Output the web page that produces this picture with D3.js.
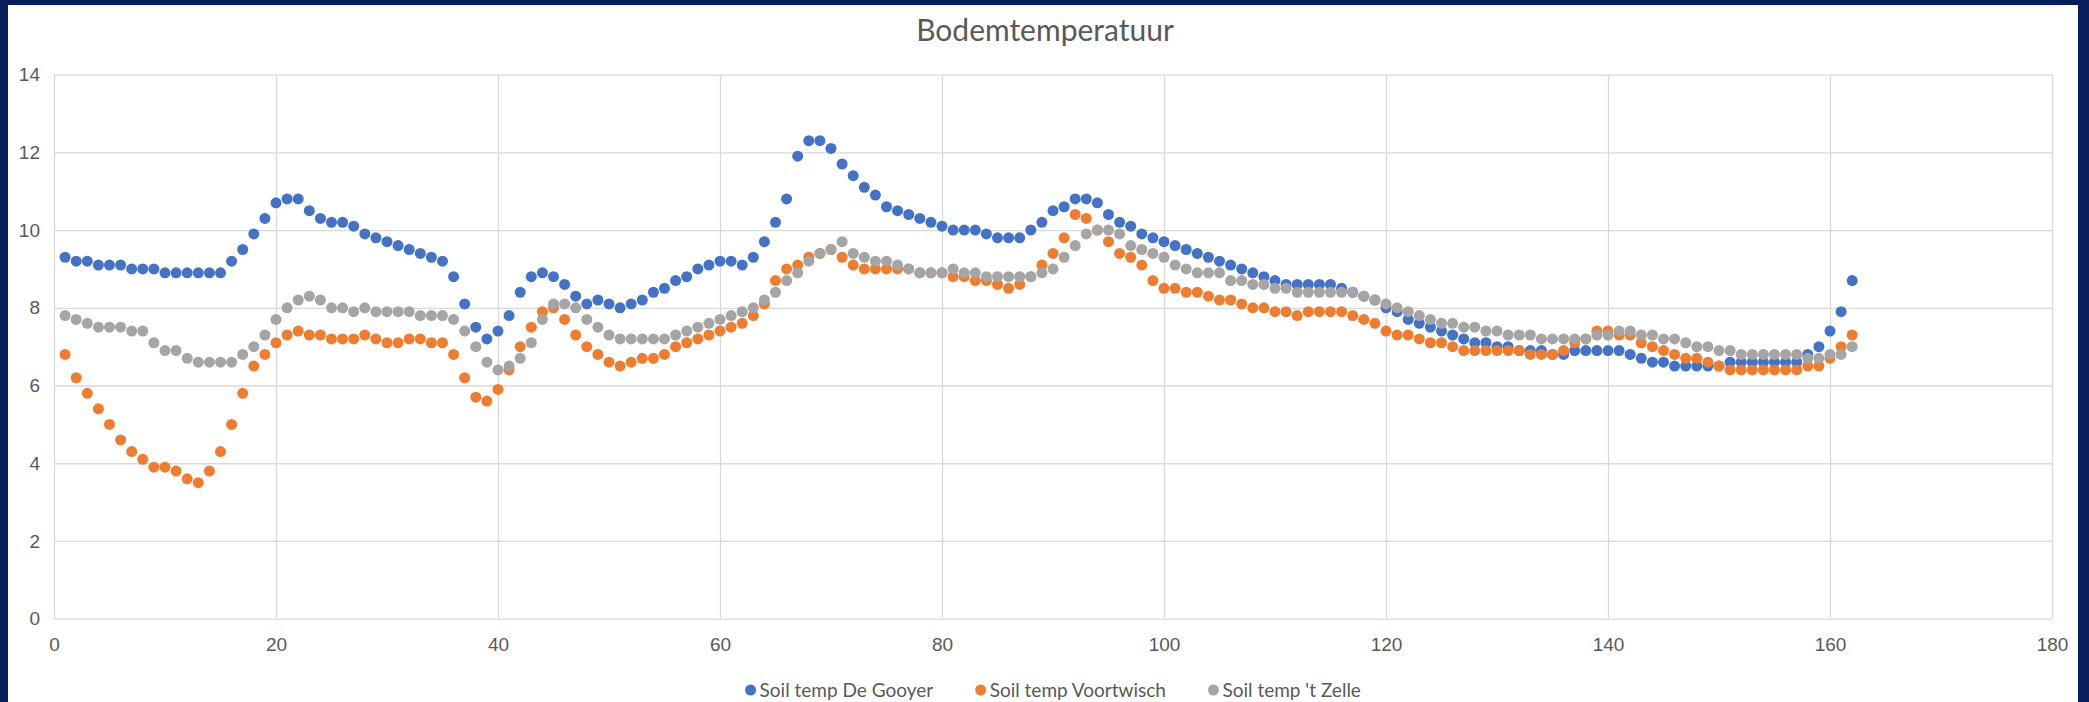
<!DOCTYPE html>
<html lang="nl">
<head>
    <meta charset="UTF-8">
    <title>Bodemtemperatuur</title>
    <script src="https://d3js.org/d3.v7.min.js"></script>
    <style>
        body {
            margin: 0;
            background-color: #081e5b;
            font-family: Lato, "Open Sans", Arial, sans-serif;
        }
        .grid line {
            stroke: #d9d9d9;
            stroke-width: 1.3;
        }
        .grid text {
            fill: #595959;
            font-size: 19px;
        }
        .title {
            fill: #595959;
            font-size: 30px;
        }
        .legend text {
            fill: #595959;
            font-size: 19px;
        }
    </style>
</head>
<body>
    <svg id="chart" width="2089" height="702"></svg>

    <script>
        // dagnummers op de x-as
        const days = d3.range(1, 163);

        const deGooyer = [
            9.3, 9.2, 9.2, 9.1, 9.1, 9.1, 9.0, 9.0, 9.0, 8.9,
            8.9, 8.9, 8.9, 8.9, 8.9, 9.2, 9.5, 9.9, 10.3, 10.7,
            10.8, 10.8, 10.5, 10.3, 10.2, 10.2, 10.1, 9.9, 9.8, 9.7,
            9.6, 9.5, 9.4, 9.3, 9.2, 8.8, 8.1, 7.5, 7.2, 7.4,
            7.8, 8.4, 8.8, 8.9, 8.8, 8.6, 8.3, 8.1, 8.2, 8.1,
            8.0, 8.1, 8.2, 8.4, 8.5, 8.7, 8.8, 9.0, 9.1, 9.2,
            9.2, 9.1, 9.3, 9.7, 10.2, 10.8, 11.9, 12.3, 12.3, 12.1,
            11.7, 11.4, 11.1, 10.9, 10.6, 10.5, 10.4, 10.3, 10.2, 10.1,
            10.0, 10.0, 10.0, 9.9, 9.8, 9.8, 9.8, 10.0, 10.2, 10.5,
            10.6, 10.8, 10.8, 10.7, 10.4, 10.2, 10.1, 9.9, 9.8, 9.7,
            9.6, 9.5, 9.4, 9.3, 9.2, 9.1, 9.0, 8.9, 8.8, 8.7,
            8.6, 8.6, 8.6, 8.6, 8.6, 8.5, 8.4, 8.3, 8.2, 8.0,
            7.9, 7.7, 7.6, 7.5, 7.4, 7.3, 7.2, 7.1, 7.1, 7.0,
            7.0, 6.9, 6.9, 6.9, 6.8, 6.8, 6.9, 6.9, 6.9, 6.9,
            6.9, 6.8, 6.7, 6.6, 6.6, 6.5, 6.5, 6.5, 6.5, 6.5,
            6.6, 6.6, 6.6, 6.6, 6.6, 6.6, 6.6, 6.8, 7.0, 7.4,
            7.9, 8.7
        ];

        const voortwisch = [
            6.8, 6.2, 5.8, 5.4, 5.0, 4.6, 4.3, 4.1, 3.9, 3.9,
            3.8, 3.6, 3.5, 3.8, 4.3, 5.0, 5.8, 6.5, 6.8, 7.1,
            7.3, 7.4, 7.3, 7.3, 7.2, 7.2, 7.2, 7.3, 7.2, 7.1,
            7.1, 7.2, 7.2, 7.1, 7.1, 6.8, 6.2, 5.7, 5.6, 5.9,
            6.4, 7.0, 7.5, 7.9, 8.0, 7.7, 7.3, 7.0, 6.8, 6.6,
            6.5, 6.6, 6.7, 6.7, 6.8, 7.0, 7.1, 7.2, 7.3, 7.4,
            7.5, 7.6, 7.8, 8.1, 8.7, 9.0, 9.1, 9.3, 9.4, 9.5,
            9.3, 9.1, 9.0, 9.0, 9.0, 9.0, 9.0, 8.9, 8.9, 8.9,
            8.8, 8.8, 8.7, 8.7, 8.6, 8.5, 8.6, 8.8, 9.1, 9.4,
            9.8, 10.4, 10.3, 10.0, 9.7, 9.4, 9.3, 9.1, 8.7, 8.5,
            8.5, 8.4, 8.4, 8.3, 8.2, 8.2, 8.1, 8.0, 8.0, 7.9,
            7.9, 7.8, 7.9, 7.9, 7.9, 7.9, 7.8, 7.7, 7.6, 7.4,
            7.3, 7.3, 7.2, 7.1, 7.1, 7.0, 6.9, 6.9, 6.9, 6.9,
            6.9, 6.9, 6.8, 6.8, 6.8, 6.9, 7.1, 7.2, 7.4, 7.4,
            7.3, 7.3, 7.1, 7.0, 6.9, 6.8, 6.7, 6.7, 6.6, 6.5,
            6.4, 6.4, 6.4, 6.4, 6.4, 6.4, 6.4, 6.5, 6.5, 6.7,
            7.0, 7.3
        ];

        const tZelle = [
            7.8, 7.7, 7.6, 7.5, 7.5, 7.5, 7.4, 7.4, 7.1, 6.9,
            6.9, 6.7, 6.6, 6.6, 6.6, 6.6, 6.8, 7.0, 7.3, 7.7,
            8.0, 8.2, 8.3, 8.2, 8.0, 8.0, 7.9, 8.0, 7.9, 7.9,
            7.9, 7.9, 7.8, 7.8, 7.8, 7.7, 7.4, 7.0, 6.6, 6.4,
            6.5, 6.7, 7.1, 7.7, 8.1, 8.1, 8.0, 7.7, 7.5, 7.3,
            7.2, 7.2, 7.2, 7.2, 7.2, 7.3, 7.4, 7.5, 7.6, 7.7,
            7.8, 7.9, 8.0, 8.2, 8.4, 8.7, 8.9, 9.2, 9.4, 9.5,
            9.7, 9.4, 9.3, 9.2, 9.2, 9.1, 9.0, 8.9, 8.9, 8.9,
            9.0, 8.9, 8.9, 8.8, 8.8, 8.8, 8.8, 8.8, 8.9, 9.0,
            9.3, 9.6, 9.9, 10.0, 10.0, 9.9, 9.6, 9.5, 9.4, 9.3,
            9.1, 9.0, 8.9, 8.9, 8.9, 8.7, 8.7, 8.6, 8.6, 8.5,
            8.5, 8.4, 8.4, 8.4, 8.4, 8.4, 8.4, 8.3, 8.2, 8.1,
            8.0, 7.9, 7.8, 7.7, 7.6, 7.6, 7.5, 7.5, 7.4, 7.4,
            7.3, 7.3, 7.3, 7.2, 7.2, 7.2, 7.2, 7.2, 7.3, 7.3,
            7.4, 7.4, 7.3, 7.3, 7.2, 7.2, 7.1, 7.0, 7.0, 6.9,
            6.9, 6.8, 6.8, 6.8, 6.8, 6.8, 6.8, 6.7, 6.7, 6.8,
            6.8, 7.0
        ];

        const seriesNames = ["Soil temp De Gooyer", "Soil temp Voortwisch", "Soil temp 't Zelle"];
        const seriesColors = ["#4472c4", "#ed7d31", "#a5a5a5"];
        const xTicks = [0, 20, 40, 60, 80, 100, 120, 140, 160, 180];
        const yTicks = [0, 2, 4, 6, 8, 10, 12, 14];

        const svg = d3.select("#chart");
        const plot = {left: 54, right: 2052, top: 74.6, bottom: 618.7};

        // witte grafiekvlak binnen de donkerblauwe rand
        svg.append("rect")
            .attr("x", 8).attr("y", 5)
            .attr("width", 2070).attr("height", 697)
            .attr("fill", "#ffffff");

        const x = d3.scaleLinear().domain([0, 180]).range([plot.left, plot.right]);
        const y = d3.scaleLinear().domain([0, 14]).range([plot.bottom, plot.top]);

        // rasterlijnen + labels
        const xAxis = svg.append("g")
            .attr("class", "grid")
            .attr("transform", `translate(0,${plot.bottom})`)
            .call(d3.axisBottom(x)
                .tickValues(xTicks)
                .tickSize(-(plot.bottom - plot.top))
                .tickPadding(19));
        xAxis.select(".domain").remove();

        const yAxis = svg.append("g")
            .attr("class", "grid")
            .attr("transform", `translate(${plot.left},0)`)
            .call(d3.axisLeft(y)
                .tickValues(yTicks)
                .tickSize(-(plot.right - plot.left))
                .tickPadding(14));
        yAxis.select(".domain").remove();
        svg.selectAll(".grid text").attr("font-family", null);

        // titel
        svg.append("text")
            .attr("class", "title")
            .attr("x", 1045)
            .attr("y", 41)
            .attr("text-anchor", "middle")
            .text("Bodemtemperatuur");

        // punten per reeks
        const series = [deGooyer, voortwisch, tZelle];
        series.forEach((values, i) => {
            svg.append("g")
                .selectAll("circle")
                .data(values)
                .enter().append("circle")
                .attr("cx", (d, j) => x(days[j]))
                .attr("cy", d => y(d))
                .attr("r", 5.5)
                .attr("fill", seriesColors[i]);
        });

        // legenda, gecentreerd onder de plot
        const legend = svg.append("g").attr("class", "legend");
        const items = legend.selectAll("g")
            .data(seriesNames)
            .enter().append("g");
        items.append("circle")
            .attr("r", 5.5)
            .attr("fill", (d, i) => seriesColors[i]);
        items.append("text")
            .attr("x", 9)
            .attr("dy", "0.35em")
            .text(d => d);

        let offset = 0;
        const widths = [];
        items.each(function() {
            const w = d3.select(this).select("text").node().getComputedTextLength();
            widths.push(w);
        });
        const gap = 42;
        const total = d3.sum(widths) + widths.length * 14.5 + gap * (widths.length - 1);
        let startX = (plot.left + plot.right) / 2 - total / 2 + 5.5;
        items.attr("transform", (d, i) => {
            const t = `translate(${startX + offset},690)`;
            offset += widths[i] + 14.5 + gap;
            return t;
        });
    </script>
</body>
</html>
